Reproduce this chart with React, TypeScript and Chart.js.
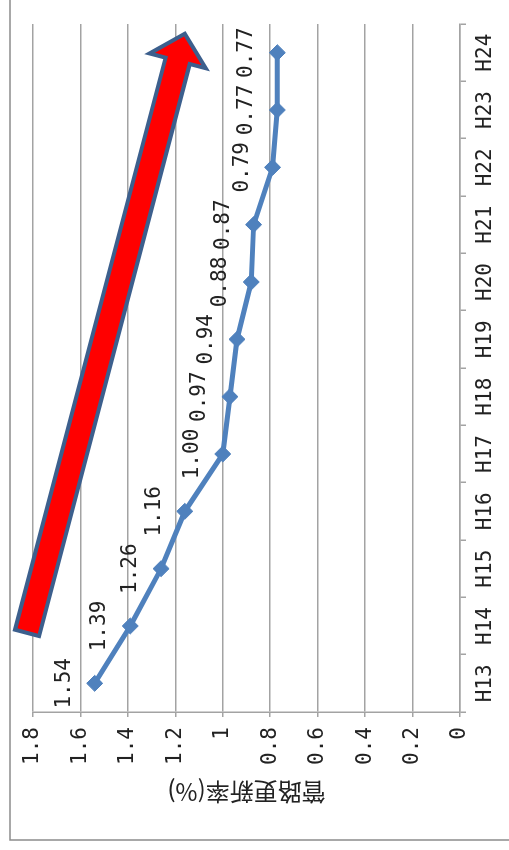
import React, { useEffect, useRef } from 'react';
import { Chart, registerables } from 'chart.js';

Chart.register(...registerables);

// ---- data ----
const categories = ['H13', 'H14', 'H15', 'H16', 'H17', 'H18', 'H19', 'H20', 'H21', 'H22', 'H23', 'H24'];
const renewalRate = [1.54, 1.39, 1.26, 1.16, 1.0, 0.97, 0.94, 0.88, 0.87, 0.79, 0.77, 0.77];
const valueMin = 0;
const valueMax = 1.8;
const valueStep = 0.2;
const yAxisTitle = '管路更新率(%)';
// arrow annotation, in data terms (category index, value)
const arrowFrom = { index: 0.88, value: 1.825 };
const arrowTo = { index: 11.33, value: 1.16 };

// ---- styles ----
const CW = 850;
const CH = 509;
const GRID = '#a3a3a3';
const TEXT = '#222';
const LINE = '#4F81BD';
const NUM_FONT = { family: '"DejaVu Sans Mono", monospace', size: 21 };

const framePlugin = {
  id: 'frame',
  beforeDraw(chart: any) {
    const ctx = chart.ctx;
    ctx.save();
    ctx.fillStyle = '#fff';
    ctx.fillRect(0, 0, chart.width, chart.height);
    ctx.strokeStyle = '#8c8c8c';
    ctx.lineWidth = 1.5;
    ctx.strokeRect(10, 10, chart.width + 40, chart.height + 40);
    ctx.restore();
  },
};

const labelPlugin = {
  id: 'valueLabels',
  afterDatasetsDraw(chart: any) {
    const ctx = chart.ctx;
    const meta = chart.getDatasetMeta(0);
    ctx.save();
    ctx.font = `${NUM_FONT.size}px ${NUM_FONT.family}`;
    ctx.fillStyle = TEXT;
    ctx.textAlign = 'center';
    ctx.textBaseline = 'alphabetic';
    meta.data.forEach((pt: any, i: number) => {
      ctx.fillText(renewalRate[i].toFixed(2), pt.x, pt.y - 25);
    });
    ctx.restore();
  },
};

const arrowPlugin = {
  id: 'arrow',
  afterDatasetsDraw(chart: any) {
    const { x, y } = chart.scales;
    const x0 = x.getPixelForValue(arrowFrom.index);
    const y0 = y.getPixelForValue(arrowFrom.value);
    const x1 = x.getPixelForValue(arrowTo.index);
    const y1 = y.getPixelForValue(arrowTo.value);
    const dx = x1 - x0;
    const dy = y1 - y0;
    const len = Math.hypot(dx, dy);
    const ux = dx / len;
    const uy = dy / len;
    const nx = -uy;
    const ny = ux;
    const sh = 12.5;
    const hh = 29;
    const hl = 28;
    const bx = x1 - ux * hl;
    const by = y1 - uy * hl;
    const ctx = chart.ctx;
    ctx.save();
    ctx.beginPath();
    ctx.moveTo(x0 + nx * sh, y0 + ny * sh);
    ctx.lineTo(bx + nx * sh, by + ny * sh);
    ctx.lineTo(bx + nx * hh, by + ny * hh);
    ctx.lineTo(x1, y1);
    ctx.lineTo(bx - nx * hh, by - ny * hh);
    ctx.lineTo(bx - nx * sh, by - ny * sh);
    ctx.lineTo(x0 - nx * sh, y0 - ny * sh);
    ctx.closePath();
    ctx.fillStyle = '#FF0000';
    ctx.fill();
    ctx.lineJoin = 'miter';
    ctx.lineWidth = 4;
    ctx.strokeStyle = '#3C5F8D';
    ctx.stroke();
    ctx.restore();
  },
};

export default function App() {
  const ref = useRef<HTMLCanvasElement>(null);

  useEffect(() => {
    document.body.style.margin = '0';
    const chart = new Chart(ref.current as HTMLCanvasElement, {
      type: 'line',
      data: {
        labels: categories,
        datasets: [
          {
            data: renewalRate,
            borderColor: LINE,
            backgroundColor: LINE,
            borderWidth: 5,
            pointStyle: 'rectRot',
            pointRadius: 8,
            pointBorderWidth: 1,
            pointBorderColor: LINE,
            pointBackgroundColor: LINE,
            tension: 0,
          },
        ],
      },
      options: {
        responsive: false,
        animation: false,
        devicePixelRatio: 1,
        layout: { padding: { left: 0, top: 33, right: 24, bottom: 0 } },
        plugins: { legend: { display: false }, tooltip: { enabled: false } },
        scales: {
          x: {
            type: 'category',
            offset: true,
            grid: {
              offset: true,
              drawOnChartArea: false,
              drawTicks: true,
              tickLength: 6,
              color: GRID,
              lineWidth: 1.5,
            },
            border: { display: true, color: GRID, width: 1.5 },
            ticks: { font: NUM_FONT, color: TEXT, padding: 7, maxRotation: 0, autoSkip: false },
            afterFit: (s: any) => {
              s.height = 49;
            },
          },
          y: {
            min: valueMin,
            max: valueMax,
            ticks: {
              stepSize: valueStep,
              font: NUM_FONT,
              color: TEXT,
              padding: 10,
              callback: (v: any) => String(Number(Number(v).toFixed(1))),
            },
            grid: { color: GRID, lineWidth: 1.5, tickLength: 5 },
            border: { display: true, color: GRID, width: 1.5 },
            title: {
              display: true,
              text: yAxisTitle,
              color: TEXT,
              font: { family: '"Noto Sans CJK JP", sans-serif', size: 24 },
              padding: { top: 43, bottom: 0 },
            },
            afterFit: (s: any) => {
              s.width = 138;
            },
          },
        },
      } as any,
      plugins: [framePlugin, arrowPlugin, labelPlugin],
    });
    return () => chart.destroy();
  }, []);

  return (
    <div
      style={{
        position: 'fixed',
        left: 0,
        top: 0,
        width: 509,
        height: 850,
        overflow: 'hidden',
        background: '#fff',
      }}
    >
      <canvas
        ref={ref}
        width={CW}
        height={CH}
        style={{
          position: 'absolute',
          left: 0,
          top: 0,
          width: CW,
          height: CH,
          transformOrigin: '0 0',
          transform: `translate(0px, ${CW}px) rotate(-90deg)`,
        }}
      />
    </div>
  );
}
